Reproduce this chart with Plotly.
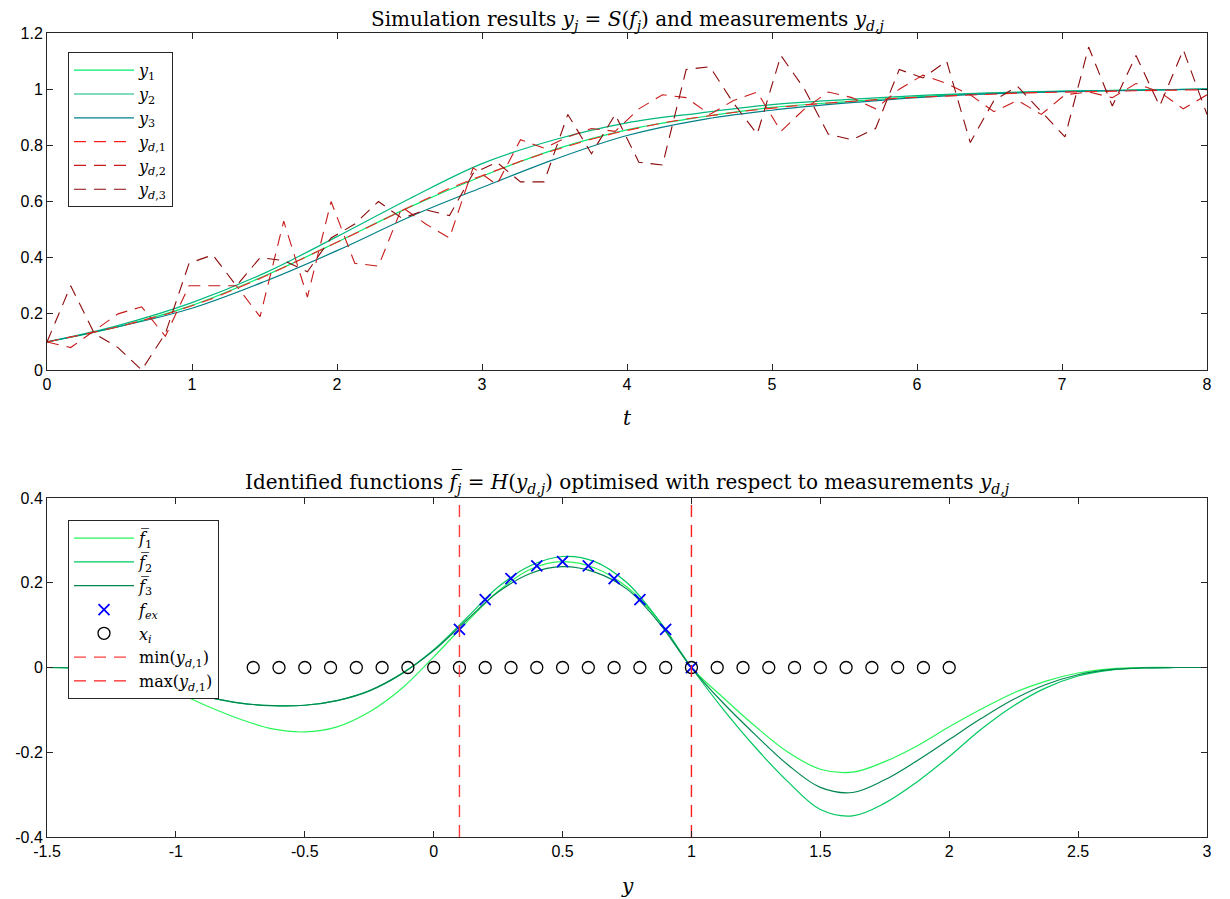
import plotly.graph_objects as go

# ---------------- data: top panel ----------------
t_smooth = [0, 0.5, 1, 1.5, 2, 2.5, 3, 3.5, 4, 4.5, 5, 5.5, 6, 6.5, 7, 7.5, 8]
y1 = [0.10, 0.155, 0.23, 0.335, 0.455, 0.58, 0.69, 0.785, 0.855, 0.90, 0.935, 0.955, 0.973, 0.985, 0.992, 0.997, 1.0]
y2 = [0.10, 0.16, 0.24, 0.345, 0.475, 0.61, 0.735, 0.82, 0.88, 0.915, 0.945, 0.963, 0.977, 0.987, 0.993, 0.997, 1.0]
y3 = [0.10, 0.155, 0.22, 0.315, 0.425, 0.545, 0.65, 0.75, 0.835, 0.89, 0.925, 0.95, 0.97, 0.983, 0.991, 0.996, 1.0]

t_meas = [8 * k / 49 for k in range(50)]
yd1 = [0.100, 0.117, 0.135, 0.154, 0.175, 0.198, 0.225, 0.255, 0.290, 0.326,
       0.365, 0.404, 0.445, 0.485, 0.527, 0.568, 0.608, 0.647, 0.680, 0.712,
       0.743, 0.772, 0.798, 0.822, 0.844, 0.863, 0.880, 0.894, 0.906, 0.917,
       0.927, 0.936, 0.944, 0.951, 0.957, 0.963, 0.968, 0.972, 0.976, 0.980,
       0.983, 0.986, 0.988, 0.990, 0.992, 0.994, 0.995, 0.996, 0.997, 0.998]
yd2 = [0.10, 0.08, 0.14, 0.20, 0.225, 0.12, 0.30, 0.30, 0.30, 0.19,
       0.53, 0.26, 0.60, 0.38, 0.37, 0.58, 0.52, 0.47, 0.72, 0.66,
       0.82, 0.79, 0.83, 0.86, 0.85, 0.93, 0.98, 0.97, 0.91, 0.96,
       0.99, 0.85, 0.93, 0.99, 0.97, 0.93, 1.00, 1.05, 1.02, 0.98,
       0.92, 0.96, 0.91, 0.98, 0.99, 0.97, 1.02, 0.99, 0.93, 0.98]
yd3 = [0.10, 0.30, 0.13, 0.08, 0.00, 0.13, 0.38, 0.41, 0.30, 0.40,
       0.39, 0.35, 0.47, 0.52, 0.60, 0.54, 0.57, 0.55, 0.70, 0.74,
       0.67, 0.67, 0.91, 0.77, 0.91, 0.74, 0.73, 1.07, 1.08, 0.95,
       0.84, 1.12, 1.00, 0.84, 0.82, 0.86, 1.07, 1.04, 1.10, 0.81,
       0.96, 1.01, 0.92, 0.83, 1.15, 0.94, 1.12, 0.94, 1.14, 0.91]

# ---------------- data: bottom panel ----------------
y_grid = [-1.5, -1.375, -1.25, -1.125, -1.0, -0.875, -0.75, -0.625, -0.5, -0.375,
          -0.25, -0.125, 0.0, 0.125, 0.25, 0.375, 0.5, 0.625, 0.75, 0.875,
          1.0, 1.125, 1.25, 1.375, 1.5, 1.625, 1.75, 1.875, 2.0, 2.125,
          2.25, 2.375, 2.5, 2.625, 2.75, 2.875, 3.0]
f1 = [0.0, -0.002, -0.010, -0.030, -0.058, -0.092, -0.122, -0.145, -0.152, -0.140,
      -0.105, -0.050, 0.025, 0.105, 0.180, 0.232, 0.250, 0.235, 0.190, 0.110,
      0.0, -0.072, -0.140, -0.200, -0.240, -0.247, -0.222, -0.185, -0.140, -0.098,
      -0.060, -0.032, -0.013, -0.003, 0.0, 0.0, 0.0]
f2 = [0.0, -0.002, -0.010, -0.028, -0.050, -0.070, -0.084, -0.090, -0.089, -0.078,
      -0.055, -0.015, 0.042, 0.115, 0.190, 0.240, 0.262, 0.250, 0.200, 0.110,
      0.0, -0.100, -0.190, -0.270, -0.335, -0.350, -0.320, -0.270, -0.210, -0.145,
      -0.090, -0.048, -0.020, -0.006, -0.001, 0.0, 0.0]
f3 = [0.0, -0.002, -0.010, -0.028, -0.050, -0.070, -0.084, -0.090, -0.089, -0.078,
      -0.055, -0.015, 0.040, 0.110, 0.178, 0.222, 0.238, 0.225, 0.185, 0.105,
      0.0, -0.085, -0.160, -0.230, -0.283, -0.295, -0.265, -0.220, -0.170, -0.120,
      -0.075, -0.040, -0.017, -0.005, -0.001, 0.0, 0.0]

x_ex = [0.1, 0.2, 0.3, 0.4, 0.5, 0.6, 0.7, 0.8, 0.9, 1.0]
f_ex = [0.09, 0.16, 0.21, 0.24, 0.25, 0.24, 0.21, 0.16, 0.09, 0.0]

x_i = [round(-0.7 + 0.1 * k, 1) for k in range(28)]
x_i_val = [0.0] * len(x_i)

yd1_min = 0.1
yd1_max = 1.0

# ---------------- styling ----------------
C_Y1 = "rgb(0,235,110)"
C_Y2 = "rgb(0,185,125)"
C_Y3 = "rgb(0,128,135)"
C_D1 = "rgb(255,30,30)"
C_D2 = "rgb(200,25,25)"
C_D3 = "rgb(140,10,10)"
C_F1 = "rgb(40,245,90)"
C_F2 = "rgb(0,200,95)"
C_F3 = "rgb(0,135,80)"
AX = "rgb(38,38,38)"
DASH = "12px,8px"
SERIF = "DejaVu Serif, serif"
SANS = "Liberation Sans, Arial, sans-serif"

fig = go.Figure()

# top panel
for name, ys, c in [("<i>y</i><sub>1</sub>", y1, C_Y1),
                    ("<i>y</i><sub>2</sub>", y2, C_Y2),
                    ("<i>y</i><sub>3</sub>", y3, C_Y3)]:
    fig.add_trace(go.Scatter(x=t_smooth, y=ys, mode="lines", name=name,
                             line=dict(color=c, width=1.2, shape="spline"),
                             xaxis="x", yaxis="y", legend="legend"))
for name, ys, c in [("<i>y</i><sub><i>d</i>,1</sub>", yd1, C_D1),
                    ("<i>y</i><sub><i>d</i>,2</sub>", yd2, C_D2),
                    ("<i>y</i><sub><i>d</i>,3</sub>", yd3, C_D3)]:
    fig.add_trace(go.Scatter(x=t_meas, y=ys, mode="lines", name=name,
                             line=dict(color=c, width=1.1, dash=DASH),
                             xaxis="x", yaxis="y", legend="legend"))

# bottom panel
for name, fs, c in [("<i>f̅</i><sub>1</sub>", f1, C_F1),
                    ("<i>f̅</i><sub>2</sub>", f2, C_F2),
                    ("<i>f̅</i><sub>3</sub>", f3, C_F3)]:
    fig.add_trace(go.Scatter(x=y_grid, y=fs, mode="lines", name=name,
                             line=dict(color=c, width=1.2, shape="spline"),
                             xaxis="x2", yaxis="y2", legend="legend2"))
fig.add_trace(go.Scatter(x=x_ex, y=f_ex, mode="markers", name="<i>f<sub>ex</sub></i>",
                         marker=dict(symbol="x-thin", size=11, color="rgb(0,0,255)",
                                     line=dict(color="rgb(0,0,255)", width=1.8)),
                         xaxis="x2", yaxis="y2", legend="legend2"))
fig.add_trace(go.Scatter(x=x_i, y=x_i_val, mode="markers", name="<i>x<sub>i</sub></i>",
                         marker=dict(symbol="circle-open", size=12, color="black",
                                     line=dict(color="black", width=1.3)),
                         xaxis="x2", yaxis="y2", legend="legend2"))
fig.add_trace(go.Scatter(x=[yd1_min, yd1_min], y=[-0.4, 0.4], mode="lines",
                         name="min(<i>y</i><sub><i>d</i>,1</sub>)",
                         line=dict(color="rgb(255,60,60)", width=1.4, dash=DASH),
                         xaxis="x2", yaxis="y2", legend="legend2"))
fig.add_trace(go.Scatter(x=[yd1_max, yd1_max], y=[-0.4, 0.4], mode="lines",
                         name="max(<i>y</i><sub><i>d</i>,1</sub>)",
                         line=dict(color="rgb(255,30,30)", width=1.4, dash=DASH),
                         xaxis="x2", yaxis="y2", legend="legend2"))

axis_common = dict(showline=True, linecolor=AX, linewidth=1, mirror="ticks",
                   ticks="inside", ticklen=6, tickcolor=AX, tickwidth=1,
                   showgrid=False, zeroline=False, automargin=False,
                   tickfont=dict(family=SANS, size=16, color="black"))

# page body has an 8px margin: plot area is placed at x 47..1207, y 33..837 of the window
top_dom = [0.5808, 1.0]
bot_dom = [0.0, 0.4216]

fig.update_layout(
    width=1214, height=891,
    margin=dict(l=39, r=15, t=25, b=62),
    paper_bgcolor="white", plot_bgcolor="white",
    xaxis=dict(domain=[0, 1], range=[0, 8], tickvals=[0, 1, 2, 3, 4, 5, 6, 7, 8],
               anchor="y", **axis_common),
    yaxis=dict(domain=top_dom, range=[0, 1.2],
               tickvals=[0, 0.2, 0.4, 0.6, 0.8, 1, 1.2],
               ticktext=["0", "0.2", "0.4", "0.6", "0.8", "1", "1.2"],
               anchor="x", **axis_common),
    xaxis2=dict(domain=[0, 1], range=[-1.5, 3],
                tickvals=[-1.5, -1, -0.5, 0, 0.5, 1, 1.5, 2, 2.5, 3],
                ticktext=["-1.5", "-1", "-0.5", "0", "0.5", "1", "1.5", "2", "2.5", "3"],
                anchor="y2", **axis_common),
    yaxis2=dict(domain=bot_dom, range=[-0.4, 0.4],
                tickvals=[-0.4, -0.2, 0, 0.2, 0.4],
                ticktext=["-0.4", "-0.2", "0", "0.2", "0.4"],
                anchor="x2", **axis_common),
    legend=dict(x=0.0181, y=0.976, xanchor="left", yanchor="top",
                bgcolor="white", bordercolor=AX, borderwidth=1,
                font=dict(family=SERIF, size=16, color="black"),
                tracegroupgap=0, itemwidth=60),
    legend2=dict(x=0.0181, y=0.394, xanchor="left", yanchor="top",
                 bgcolor="white", bordercolor=AX, borderwidth=1,
                 font=dict(family=SERIF, size=16, color="black"),
                 tracegroupgap=0, itemwidth=60),
    showlegend=True,
    annotations=[
        dict(text="Simulation results <i>y<sub>j</sub></i> = <i>S</i>(<i>f̅<sub>j</sub></i>) and measurements <i>y</i><sub><i>d,j</i></sub>",
             x=0.5, y=1.0162, xref="paper", yref="paper", showarrow=False,
             xanchor="center", yanchor="middle",
             font=dict(family=SERIF, size=20, color="black")),
        dict(text="Identified functions <i>f̅<sub>j</sub></i> = <i>H</i>(<i>y</i><sub><i>d,j</i></sub>) optimised with respect to measurements <i>y</i><sub><i>d,j</i></sub>",
             x=0.5, y=0.4403, xref="paper", yref="paper", showarrow=False,
             xanchor="center", yanchor="middle",
             font=dict(family=SERIF, size=20, color="black")),
        dict(text="<i>t</i>", x=0.5, y=0.5211, xref="paper", yref="paper",
             showarrow=False, xanchor="center", yanchor="middle",
             font=dict(family=SERIF, size=20, color="black")),
        dict(text="<i>y</i>", x=0.5, y=-0.061, xref="paper", yref="paper",
             showarrow=False, xanchor="center", yanchor="middle",
             font=dict(family=SERIF, size=20, color="black")),
    ],
)

fig.write_html("out.html")
